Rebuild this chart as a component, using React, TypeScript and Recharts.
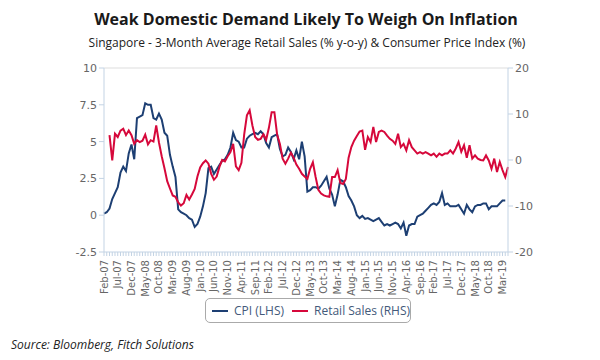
import React from "react"
import { LineChart, Line, XAxis, YAxis, Legend, ReferenceLine } from "recharts"

const MONTH_NAMES = ["Jan", "Feb", "Mar", "Apr", "May", "Jun", "Jul", "Aug", "Sep", "Oct", "Nov", "Dec"]

// CPI % y-o-y, Feb-07 .. May-19 (LHS)
const cpi: (number | null)[] = [
  0.1, 0.2, 0.45, 1.1, 1.5, 1.9, 2.9, 3.3, 3.0, 4.2, 4.8, 3.8,
  6.6, 6.7, 6.8, 7.6, 7.5, 7.5, 6.6, 6.5, 6.9, 6.5, 5.6, 5.4,
  4.1, 3.3, 2.6, 0.4, 0.2, 0.1, 0.0, -0.2, -0.3, -0.8, -0.6, -0.1,
  0.6, 1.5, 3.2, 3.3, 2.8, 3.1, 3.4, 3.7, 3.8, 4.1, 4.6, 5.6,
  5.1, 5.0, 4.6, 4.6, 5.2, 5.4, 5.5, 5.6, 5.5, 5.7, 5.5, 4.9,
  4.6, 5.3, 5.4, 5.5, 4.5, 4.0, 4.1, 4.6, 4.3, 3.8, 4.4, 3.8,
  5.0, 4.0, 1.6, 1.7, 1.9, 1.9, 1.8, 2.0, 2.3, 2.6, 1.8, 1.4,
  0.6, 1.4, 2.4, 2.3, 1.9, 1.3, 1.0, 0.6, 0.0, -0.2, -0.05, -0.25,
  -0.2, -0.3, -0.4, -0.3, -0.2, -0.45, -0.7, -0.6, -0.7, -0.6, -0.5, -0.6,
  -0.9, -0.5, -1.4, -0.7, -0.6, -0.6, -0.1, 0.0, 0.1, 0.3, 0.5, 0.7,
  0.8, 0.7, 0.9, 1.5, 0.7, 0.8, 0.6, 0.6, 0.6, 0.7, 0.4, 0.1,
  0.7, 0.4, 0.2, 0.6, 0.7, 0.7, 0.8, 0.8, 0.4, 0.6, 0.6, 0.6,
  0.8, 1.0, 1.0, null,
]

// 3-month average retail sales % y-o-y (RHS)
const retail: (number | null)[] = [
  null, null, 5.4, -0.1, 5.7, 5.0, 6.4, 6.8, 5.4, 6.4, 5.4, 3.5,
  4.3, 3.9, 4.2, 5.5, 3.4, 4.3, 4.0, 7.5, 3.8, 0.8, -1.8, -4.6,
  -6.2, -7.7, -8.0, -9.2, -9.9, -9.4, -7.6, -8.6, -7.5, -6.3, -3.6, -1.6,
  -0.7, -0.1, -0.8, -3.0, -4.3, -3.6, -1.5, 0.0, -0.3, 0.8, 1.7, 3.5,
  -1.4, -2.2, -0.6, 5.5, 9.7, 10.8, 7.5, 5.0, 4.4, 4.6, 5.6, 4.4,
  7.0, 10.4, 10.4, 5.5, 3.5, 0.3, -0.8, 0.3, 1.6, 0.5, -1.0, -1.9,
  -3.0, -3.6, -4.1, -1.9, -0.5, -3.7, -6.5, -7.3, -7.7, -7.9, -8.0, -3.7,
  -3.7, -2.2, -5.0, -5.2, -4.1, 0.5, 2.8, 4.2, 5.2, 6.2, 6.4, 2.2,
  5.0, 3.9, 7.2, 3.9, 6.1, 6.4, 6.1, 5.3, 4.6, 4.2, 3.5, 5.7,
  2.8, 3.5, 2.1, 4.3, 2.8, 2.1, 1.4, 1.7, 1.4, 1.7, 1.4, 1.0,
  1.4, 0.7, 1.4, 1.0, 1.4, 1.4, 2.1, 1.4, 2.5, 3.9, 1.8, 3.2,
  0.5, 3.2, 0.3, 1.0, 0.3, 0.0, -0.1, 1.0, -0.1, -1.9, 0.3, -2.6,
  -0.4, -2.2, -3.7, -1.5,
]

const tickLabels = [
  "Feb-07", "Jul-07", "Dec-07", "May-08", "Oct-08", "Mar-09", "Aug-09", "Jan-10", "Jun-10", "Nov-10",
  "Apr-11", "Sep-11", "Feb-12", "Jul-12", "Dec-12", "May-13", "Oct-13", "Mar-14", "Aug-14", "Jan-15",
  "Jun-15", "Nov-15", "Apr-16", "Sep-16", "Feb-17", "Jul-17", "Dec-17", "May-18", "Oct-18", "Mar-19",
]

const leftTicks = [-2.5, 0, 2.5, 5, 7.5, 10]
const rightTicks = [-20, -10, 0, 10, 20]

const months: string[] = []
for (let k = 0; k < cpi.length; k++) {
  const m = (1 + k) % 12
  const yr = 7 + Math.floor((1 + k) / 12)
  months.push(`${MONTH_NAMES[m]}-${String(yr).padStart(2, "0")}`)
}

const data = months.map((month, i) => ({ month, cpi: cpi[i], retail: retail[i] }))

const BLUE = "#1d3f73"
const RED = "#d6083b"
const AXIS = "#c3d3e4"

function MonthTick(props: any) {
  const { x, y, payload } = props
  if (!tickLabels.includes(payload.value)) return null
  const ty = y + 2
  return (
    <text
      x={x}
      y={ty}
      dy="0.35em"
      textAnchor="end"
      transform={`rotate(-90 ${x} ${ty})`}
      fontSize={10}
      fontFamily="DejaVu Sans"
      fill="#666"
    >
      {payload.value}
    </text>
  )
}

function LegendBox() {
  const item = (color: string, label: string) => (
    <span style={{ display: "inline-flex", alignItems: "center", marginRight: 8 }}>
      <span style={{ display: "inline-block", width: 16, height: 2, background: color, marginRight: 6 }} />
      {label}
    </span>
  )
  return (
    <div
      style={{
        border: "1px solid #aaa",
        borderRadius: 5,
        height: 25,
        boxSizing: "border-box",
        display: "flex",
        alignItems: "center",
        padding: "0 0 0 6px",
        fontFamily: "Open Sans",
        fontSize: 12,
        color: "#43597a",
        whiteSpace: "nowrap",
      }}
    >
      {item(BLUE, "CPI (LHS)")}
      {item(RED, "Retail Sales (RHS)")}
    </div>
  )
}

export default function App() {
  return (
    <div style={{ position: "absolute", left: 0, top: 0, width: 600, height: 360, background: "#fff", fontFamily: "Open Sans" }}>
      <div style={{ position: "absolute", top: 8, left: 6, width: 600, textAlign: "center", fontSize: 16, fontWeight: 700, lineHeight: "22px", color: "#1a1a1a" }}>
        Weak Domestic Demand Likely To Weigh On Inflation
      </div>
      <div style={{ position: "absolute", top: 35, left: 7, width: 600, textAlign: "center", fontSize: 12, lineHeight: "16px", color: "#222" }}>
        Singapore - 3-Month Average Retail Sales (% y-o-y) &amp; Consumer Price Index (%)
      </div>
      <LineChart width={600} height={360} data={data} margin={{ top: 68, right: 42, left: 54, bottom: 68 }}>
        <XAxis
          dataKey="month"
          interval={0}
          tick={<MonthTick />}
          tickSize={4}
          height={40}
          stroke={AXIS}
        />
        <YAxis
          yAxisId="left"
          domain={[-2.5, 10]}
          ticks={leftTicks}
          width={50}
          tickSize={5}
          stroke={AXIS}
          tick={{ fill: "#666", fontSize: 11, fontFamily: "DejaVu Sans" }}
        />
        <YAxis
          yAxisId="right"
          orientation="right"
          domain={[-20, 20]}
          ticks={rightTicks}
          width={50}
          tickSize={5}
          stroke={AXIS}
          tick={{ fill: "#666", fontSize: 11, fontFamily: "DejaVu Sans" }}
        />
        <ReferenceLine yAxisId="left" y={10} stroke="#ddd" />
        <Legend
          layout="horizontal"
          verticalAlign="middle"
          align="center"
          wrapperStyle={{ top: 298, left: 205, width: 206, height: 27 }}
          content={() => <LegendBox />}
        />
        <Line yAxisId="left" dataKey="cpi" stroke={BLUE} strokeWidth={2} dot={false} isAnimationActive={false} type="linear" />
        <Line yAxisId="right" dataKey="retail" stroke={RED} strokeWidth={2} dot={false} isAnimationActive={false} type="linear" />
      </LineChart>
      <div style={{ position: "absolute", top: 337, left: 11, fontSize: 12, fontStyle: "italic", lineHeight: "16px", color: "#222" }}>
        Source: Bloomberg, Fitch Solutions
      </div>
    </div>
  )
}
